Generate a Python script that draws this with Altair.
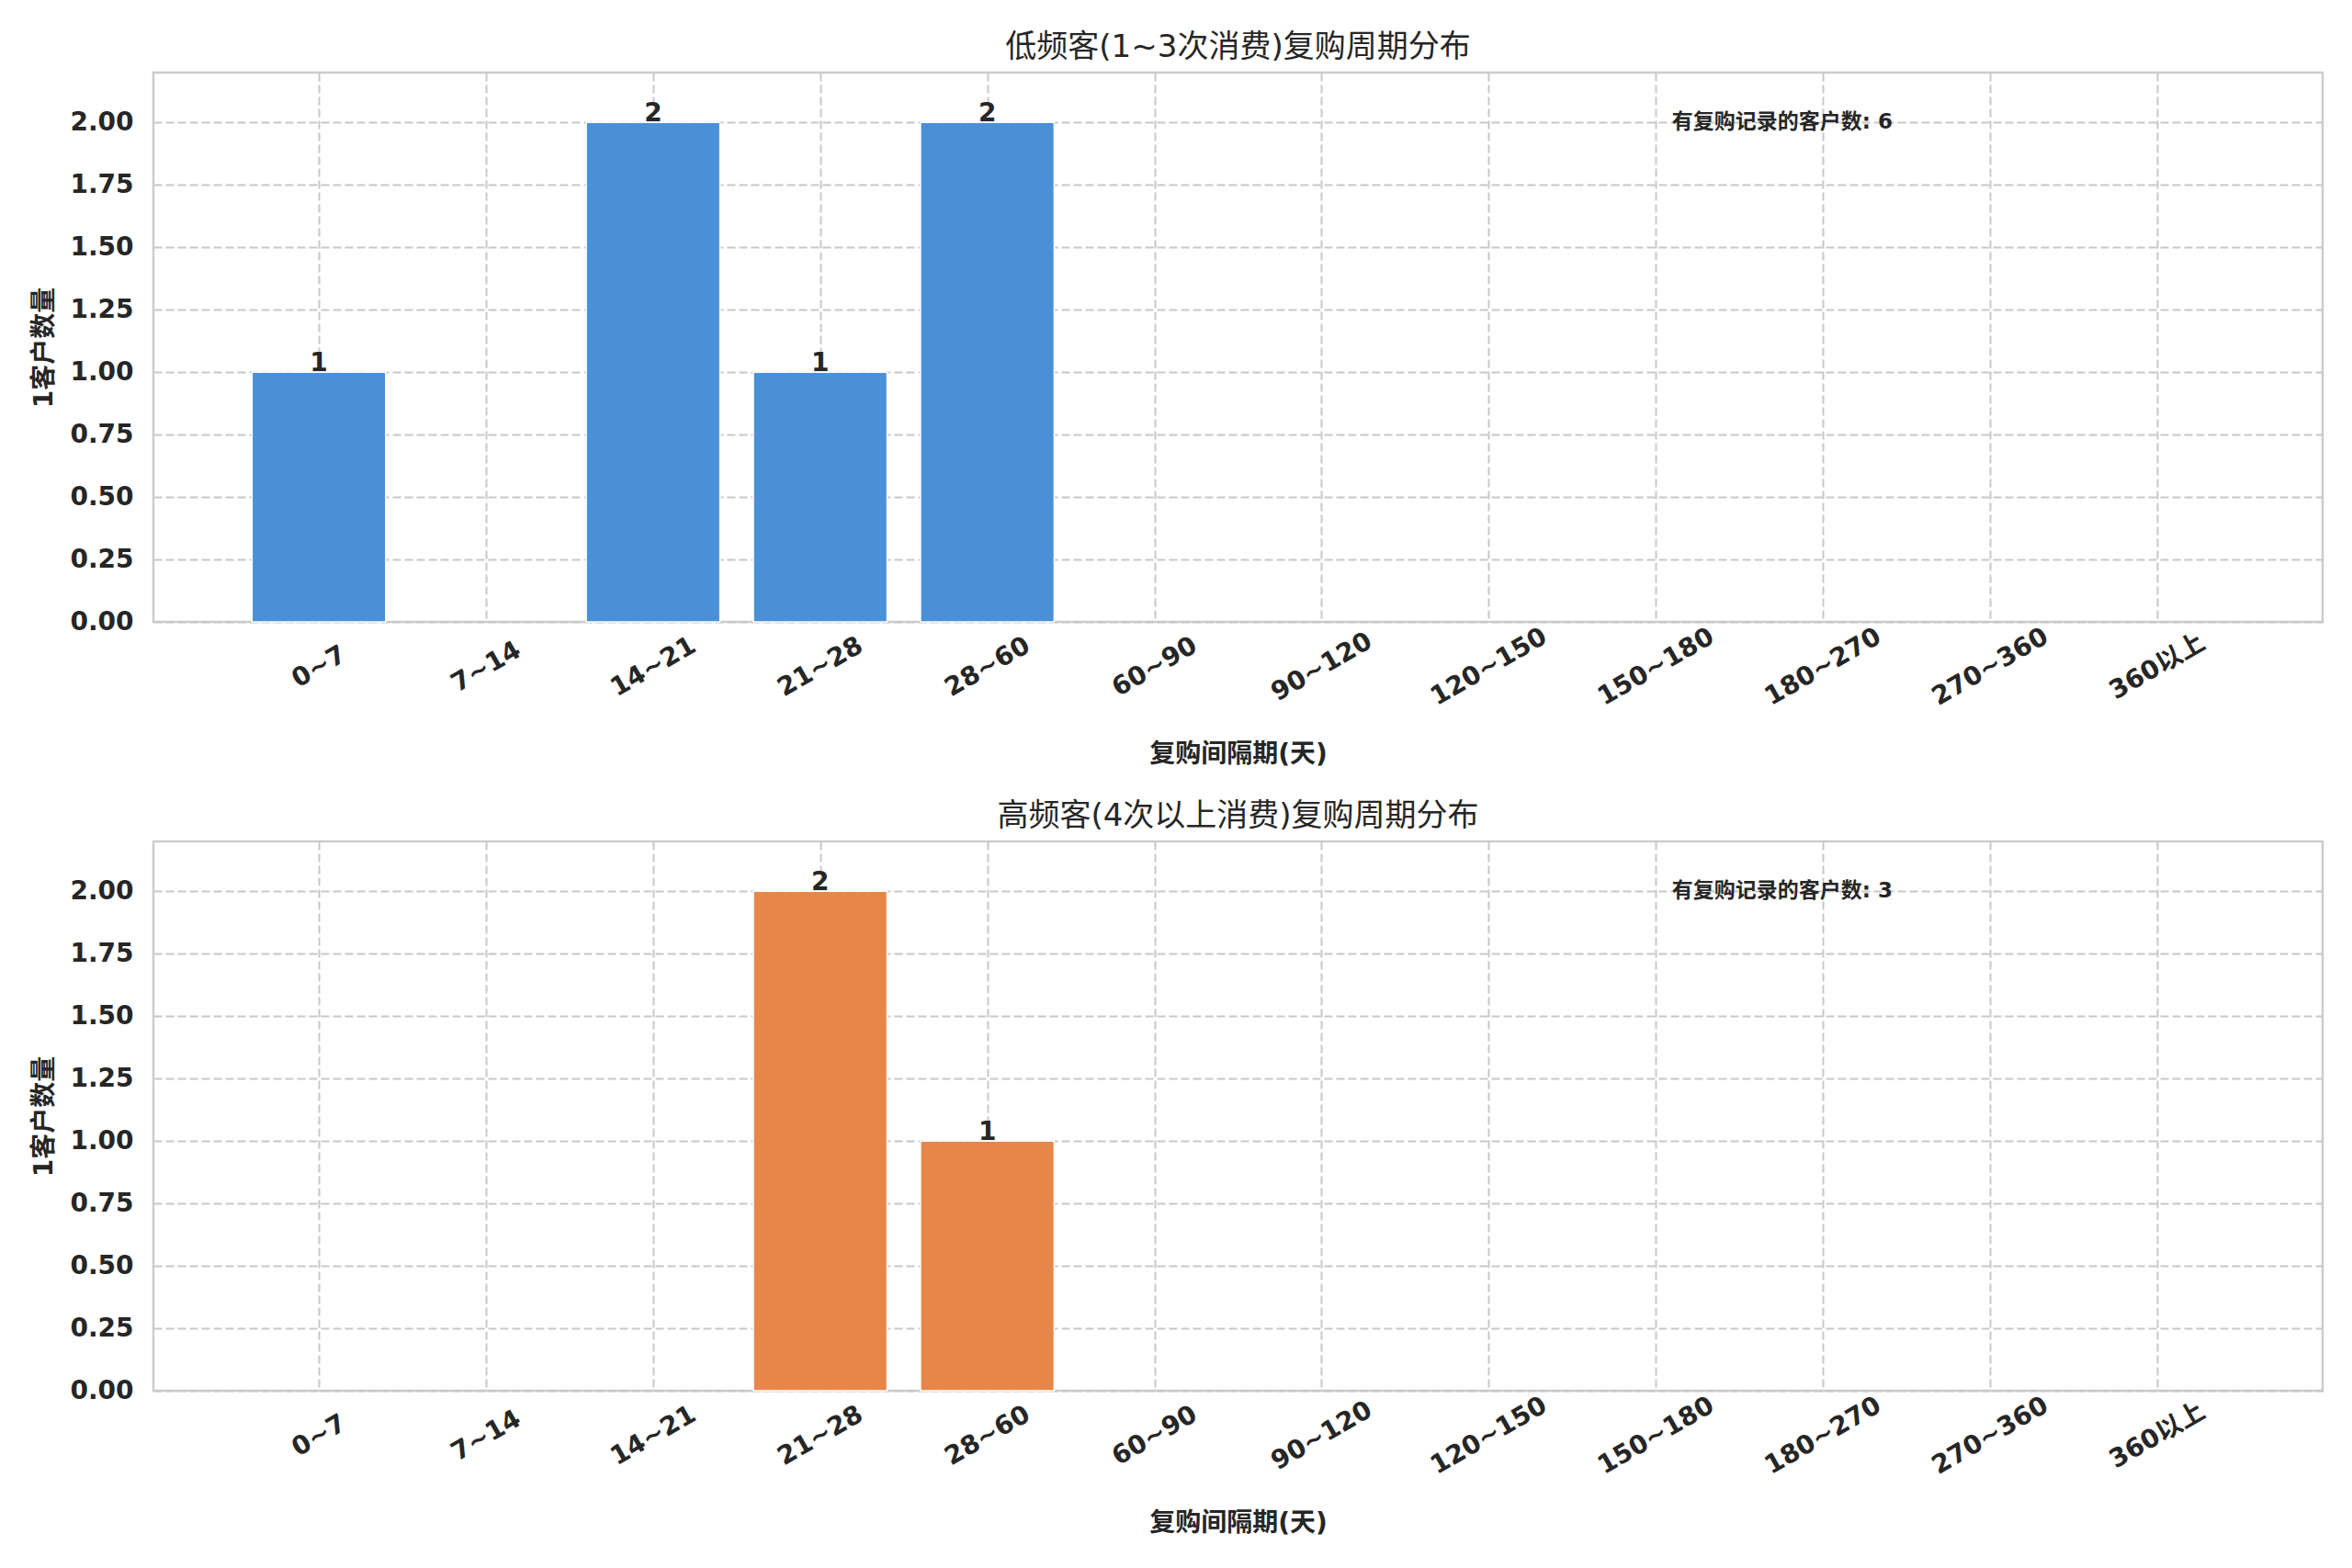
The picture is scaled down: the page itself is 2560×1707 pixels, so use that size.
import json
import altair as alt
import pandas as pd

categories = ["0~7", "7~14", "14~21", "21~28", "28~60", "60~90", "90~120",
              "120~150", "150~180", "180~270", "270~360", "360以上"]
low_counts = [1, 0, 2, 1, 2, 0, 0, 0, 0, 0, 0, 0]
high_counts = [0, 0, 0, 2, 1, 0, 0, 0, 0, 0, 0, 0]
panel_titles = ["低频客(1~3次消费)复购周期分布", "高频客(4次以上消费)复购周期分布"]
bar_colors = ["#4A90D9", "#E8864A"]
y_ticks = [0, 0.25, 0.5, 0.75, 1.0, 1.25, 1.5, 1.75, 2.0]
y_label = "1客户数量"
x_label = "复购间隔期(天)"
note_label = "有复购记录的客户数"

FONT = "DejaVu Sans, Noto Sans CJK SC, sans-serif"
TXT = "#262626"
W, H = 2361, 598

label_expr = json.dumps(categories, ensure_ascii=False) + "[datum.value]"

xscale = alt.Scale(domain=[-0.99, 11.99], nice=False, zero=False)
yscale = alt.Scale(domain=[0, 2.2], nice=False)

xaxis = alt.Axis(values=list(range(len(categories))), labelExpr=label_expr,
                 labelAngle=-30, labelAlign="center", labelBaseline="middle",
                 labelPadding=49, title=x_label, titleY=144, titleBaseline="middle")
yaxis = alt.Axis(values=y_ticks, format=".2f", labelPadding=22, title=y_label,
                 titleX=-119, titleAngle=270, titleBaseline="middle", titleAlign="center")


def panel(counts, title, color):
    df = pd.DataFrame({"idx": list(range(len(categories))), "cat": categories, "count": counts})
    base = alt.Chart(df).transform_calculate(
        x0="datum.idx - 0.4", x1="datum.idx + 0.4", zero="0"
    )
    bars = base.transform_filter("datum.count > 0").mark_bar(
        color=color, stroke="white", strokeWidth=1.5
    ).encode(
        x=alt.X("x0:Q", scale=xscale, axis=xaxis),
        x2="x1:Q",
        y=alt.Y("count:Q", scale=yscale, axis=yaxis),
        y2="zero:Q",
    )
    labels = base.transform_filter("datum.count > 0").mark_text(
        baseline="alphabetic", dy=-1, fontSize=28, fontWeight="bold", color=TXT, font=FONT
    ).encode(
        x=alt.X("idx:Q", scale=xscale, axis=xaxis),
        y=alt.Y("count:Q", scale=yscale, axis=yaxis),
        text="count:Q",
    )
    note_df = pd.DataFrame({"t": [f"{note_label}: {sum(counts)}"]})
    note = alt.Chart(note_df).mark_text(
        align="left", baseline="middle", fontSize=23, fontWeight="bold", color=TXT, font=FONT
    ).encode(
        x=alt.value(0.70 * W),
        y=alt.value(0.09 * H),
        text="t:N",
    )
    return alt.layer(bars, labels, note).properties(
        width=W, height=H,
        title=alt.TitleParams(title, fontSize=34, fontWeight="normal", font=FONT,
                              color=TXT, anchor="middle", offset=-17, baseline="alphabetic"),
    )


chart = alt.vconcat(
    panel(low_counts, panel_titles[0], bar_colors[0]),
    panel(high_counts, panel_titles[1], bar_colors[1]),
    spacing=239, bounds="flush",
).properties(
    padding={"left": 24, "top": 25, "right": 10, "bottom": 10},
    background="white",
).configure_view(
    stroke="#cccccc", strokeWidth=2.5
).configure_axis(
    domain=False, ticks=False, grid=True, gridColor="#c8c8c8", gridDash=[9, 4], gridWidth=2,
    labelFont=FONT, labelFontSize=28, labelFontWeight="bold", labelColor=TXT,
    titleFont=FONT, titleFontSize=28, titleFontWeight="bold", titleColor=TXT,
)

chart.save("out.html", embed_options={"renderer": "svg", "actions": False})
